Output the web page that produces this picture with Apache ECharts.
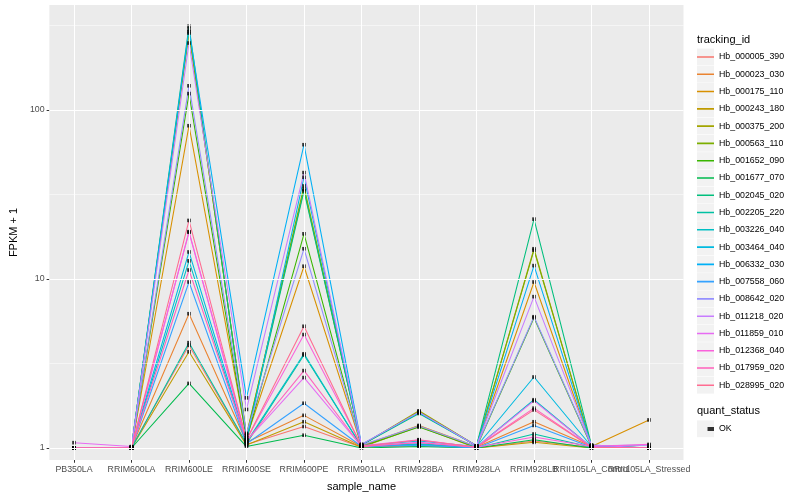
<!DOCTYPE html>
<html><head><meta charset="utf-8">
<script src="https://cdn.jsdelivr.net/npm/echarts/dist/echarts.min.js"></script>
<style>html,body{margin:0;padding:0;background:#fff}#c{width:800px;height:500px}</style>
</head><body><div id="c"></div>
<script>
// ---------- data ----------
const categories = ['PB350LA','RRIM600LA','RRIM600LE','RRIM600SE','RRIM600PE','RRIM901LA','RRIM928BA','RRIM928LA','RRIM928LB','RRII105LA_Control','RRII105LA_Stressed'];
const trackingIds = ['Hb_000005_390','Hb_000023_030','Hb_000175_110','Hb_000243_180','Hb_000375_200','Hb_000563_110','Hb_001652_090','Hb_001677_070','Hb_002045_020','Hb_002205_220','Hb_003226_040','Hb_003464_040','Hb_006332_030','Hb_007558_060','Hb_008642_020','Hb_011218_020','Hb_011859_010','Hb_012368_040','Hb_017959_020','Hb_028995_020'];
const seriesColors = ['#F8766D','#EA8331','#D89000','#C09B00','#A3A500','#7CAE00','#39B600','#00BB4E','#00BF7D','#00C1A3','#00BFC4','#00BAE0','#00B0F6','#35A2FF','#9590FF','#C77CFF','#E76BF3','#FA62DB','#FF62BC','#FF6C91'];

const Hb_000005_390 = [1, 1.01, 4.05, 1.05, 1.34, 1.01, 1.03, 1.0, 1.10, 1.01, 1.0];
const Hb_000023_030 = [1, 1.01, 6.23, 1.08, 1.56, 1.02, 1.04, 1.01, 1.43, 1.02, 1.0];
const Hb_000175_110 = [1, 1.0, 80.7, 1.15, 11.9, 1.03, 1.36, 1.02, 9.6, 1.02, 1.465];
const Hb_000243_180 = [1, 1.0, 3.71, 1.04, 1.43, 1.01, 1.34, 1.0, 1.08, 1.0, 1.0];
const Hb_000375_200 = [1, 1.01, 285, 1.20, 34.0, 1.04, 1.66, 1.03, 15.1, 1.03, 1.0];
const Hb_000563_110 = [1, 1.01, 290, 1.18, 35.5, 1.04, 1.64, 1.03, 14.8, 1.03, 1.0];
const Hb_001652_090 = [1, 1.0, 125, 1.12, 18.5, 1.02, 1.33, 1.01, 5.9, 1.02, 1.0];
const Hb_001677_070 = [1, 1.0, 2.41, 1.02, 1.19, 1.0, 1.02, 1.0, 1.12, 1.0, 1.0];
const Hb_002045_020 = [1, 1.01, 313, 1.15, 33.2, 1.04, 1.60, 1.03, 22.6, 1.04, 1.0];
const Hb_002205_220 = [1, 1.0, 4.2, 1.06, 3.55, 1.02, 1.05, 1.0, 1.21, 1.01, 1.0];
const Hb_003226_040 = [1, 1.0, 12.8, 1.08, 3.61, 1.02, 1.06, 1.01, 1.93, 1.01, 1.0];
const Hb_003464_040 = [1, 1.01, 14.45, 1.10, 40.0, 1.03, 1.10, 1.02, 2.63, 1.02, 1.0];
const Hb_006332_030 = [1, 1.01, 300, 1.98, 62.3, 1.05, 1.62, 1.03, 12.0, 1.03, 1.0];
const Hb_007558_060 = [1, 1.0, 9.6, 1.06, 1.84, 1.02, 1.04, 1.0, 1.36, 1.01, 1.0];
const Hb_008642_020 = [1, 1.01, 139, 1.22, 15.1, 1.04, 1.35, 1.02, 5.98, 1.03, 1.04];
const Hb_011218_020 = [1, 1.01, 249, 1.69, 42.6, 1.05, 1.63, 1.03, 7.86, 1.04, 1.0];
const Hb_011859_010 = [1.075, 1.02, 18.9, 1.10, 2.61, 1.02, 1.08, 1.01, 1.90, 1.01, 1.0];
const Hb_012368_040 = [1, 1.0, 19.05, 1.12, 4.69, 1.03, 1.12, 1.01, 1.16, 1.02, 1.05];
const Hb_017959_020 = [1, 1.0, 11.3, 1.10, 2.87, 1.02, 1.075, 1.01, 1.72, 1.01, 1.0];
const Hb_028995_020 = [1, 1.0, 22.2, 1.12, 5.25, 1.02, 1.116, 1.01, 1.68, 1.01, 1.0];

const seriesValues = [Hb_000005_390,Hb_000023_030,Hb_000175_110,Hb_000243_180,Hb_000375_200,Hb_000563_110,Hb_001652_090,Hb_001677_070,Hb_002045_020,Hb_002205_220,Hb_003226_040,Hb_003464_040,Hb_006332_030,Hb_007558_060,Hb_008642_020,Hb_011218_020,Hb_011859_010,Hb_012368_040,Hb_017959_020,Hb_028995_020];

const yTickValues = [1, 10, 100];
const yTickLabels = ['1', '10', '100'];
const yMinorBreaks = [3.1623, 31.623, 316.23];
const yRange = [0.849, 418];

// ---------- chart ----------
const FONT = '"Liberation Sans", Arial, Helvetica, sans-serif';
const chart = echarts.init(document.getElementById('c'), null, {renderer: 'canvas'});

const lineIcon = 'path://M0,0L0.001,0L0.001,0.001ZM0,7.7H17V9.3H0ZM0,17L0.001,17L0.001,16.999Z';
const squareIcon = 'path://M0,0L0.001,0L0.001,0.001ZM6.5,6.5H10.5V10.5H6.5ZM0,17L0.001,17L0.001,16.999Z';

const series = [];
series.push({
  type: 'line', xAxisIndex: 0, yAxisIndex: 0, data: [], silent: true, z: 1,
  markLine: {silent: true, symbol: ['none', 'none'], label: {show: false}, animation: false,
    lineStyle: {color: '#FFFFFF', width: 1.07, type: 'solid'},
    data: categories.map(c => ({xAxis: c}))}
});
series.push({
  type: 'line', xAxisIndex: 1, yAxisIndex: 1, data: [], silent: true, z: 1,
  markLine: {silent: true, symbol: ['none', 'none'], label: {show: false}, animation: false,
    lineStyle: {color: '#FFFFFF', width: 0.53, type: 'solid'},
    data: yMinorBreaks.map(v => ({yAxis: v}))}
});
trackingIds.forEach((id, i) => {
  series.push({
    name: id, type: 'line', xAxisIndex: 0, yAxisIndex: 0,
    data: seriesValues[i], showSymbol: false, symbol: 'none', silent: true, z: 2,
    lineStyle: {width: 1.07, color: seriesColors[i]}, itemStyle: {color: seriesColors[i]}
  });
});
const pts = [];
seriesValues.forEach(arr => arr.forEach((v, j) => pts.push([j, v])));
series.push({
  name: 'OK', type: 'scatter', xAxisIndex: 0, yAxisIndex: 0, data: pts, z: 3, silent: true,
  symbol: 'rect', symbolSize: 3.6, itemStyle: {color: '#000000'}
});

const keyTop = 48.5, keyStep = 17.28;
const graphics = [];
trackingIds.forEach((id, i) => {
  graphics.push({type: 'rect', left: 697, top: keyTop + i * keyStep, z: 0,
    shape: {width: 17, height: 16.8}, style: {fill: '#F2F2F2'}});
});
graphics.push({type: 'rect', left: 697, top: 420.4, z: 0, shape: {width: 17, height: 16.8}, style: {fill: '#F2F2F2'}});
graphics.push({type: 'text', x: 697, y: 40, z: 5, style: {text: 'tracking_id', fontSize: 11, fontFamily: FONT, fill: '#000', verticalAlign: 'middle', textVerticalAlign: 'middle'}});
graphics.push({type: 'text', x: 697, y: 411, z: 5, style: {text: 'quant_status', fontSize: 11, fontFamily: FONT, fill: '#000', verticalAlign: 'middle', textVerticalAlign: 'middle'}});

const option = {
  animation: false,
  textStyle: {fontFamily: FONT},
  grid: [
    {left: 45.25, right: 122.25, top: 5, bottom: 40, show: false},
    {left: 39.5, right: 116.5, top: 5, bottom: 40, show: true, backgroundColor: '#EBEBEB', borderWidth: 0}
  ],
  xAxis: [
    {gridIndex: 0, type: 'category', data: categories, boundaryGap: true,
      axisLine: {show: false},
      axisTick: {show: true, alignWithLabel: true, length: 2.75, lineStyle: {color: '#333333', width: 1}},
      axisLabel: {interval: 0, hideOverlap: false, color: '#4D4D4D', fontSize: 8.8, margin: 4.8, fontFamily: FONT},
      splitLine: {show: false},
      name: 'sample_name', nameLocation: 'middle', nameGap: 21.5,
      nameTextStyle: {fontSize: 11, color: '#000', fontFamily: FONT}},
    {gridIndex: 1, type: 'value', min: 0, max: 1, show: false}
  ],
  yAxis: [
    {gridIndex: 0, type: 'log', logBase: 10, min: yRange[0], max: yRange[1], show: false},
    {gridIndex: 1, type: 'log', logBase: 10, min: yRange[0], max: yRange[1],
      axisLine: {show: false},
      axisTick: {show: true, length: 2.75, customValues: yTickValues, lineStyle: {color: '#333333', width: 1}},
      axisLabel: {color: '#4D4D4D', fontSize: 8.8, margin: 4.8, fontFamily: FONT,
        customValues: yTickValues,
        formatter: v => {
          const k = yTickValues.findIndex(t => Math.abs(t - v) / t < 1e-6);
          return k >= 0 ? yTickLabels[k] : '';
        }},
      splitLine: {show: false},
      minorSplitLine: {show: false},
      name: 'FPKM + 1', nameLocation: 'middle', nameGap: 22.5, nameRotate: 90,
      nameTextStyle: {fontSize: 11, color: '#000', fontFamily: FONT}}
  ],
  legend: [
    {data: trackingIds.map((n, i) => ({name: n, icon: lineIcon, itemStyle: {color: seriesColors[i], borderWidth: 0, opacity: 1}})),
      orient: 'vertical', left: 697, top: keyTop, itemWidth: 17, itemHeight: 17, itemGap: keyStep - 17,
      padding: 0, selectedMode: false, symbolKeepAspect: false, z: 4,
      textStyle: {fontSize: 8.8, color: '#000', fontFamily: FONT}},
    {data: [{name: 'OK', icon: squareIcon, itemStyle: {color: '#000', borderWidth: 0}}],
      orient: 'vertical', left: 697, top: 420.4, itemWidth: 17, itemHeight: 17,
      padding: 0, selectedMode: false, symbolKeepAspect: false, z: 4,
      textStyle: {fontSize: 8.8, color: '#000', fontFamily: FONT}}
  ],
  graphic: graphics,
  series: series
};
// major horizontal grid lines through a marker on the full-width panel
series[1].markLine.data = series[1].markLine.data.concat([]);
series.push({
  type: 'line', xAxisIndex: 1, yAxisIndex: 1, data: [], silent: true, z: 1,
  markLine: {silent: true, symbol: ['none', 'none'], label: {show: false}, animation: false,
    lineStyle: {color: '#FFFFFF', width: 1.07, type: 'solid'},
    data: yTickValues.map(v => ({yAxis: v}))}
});
chart.setOption(option);
</script></body></html>
